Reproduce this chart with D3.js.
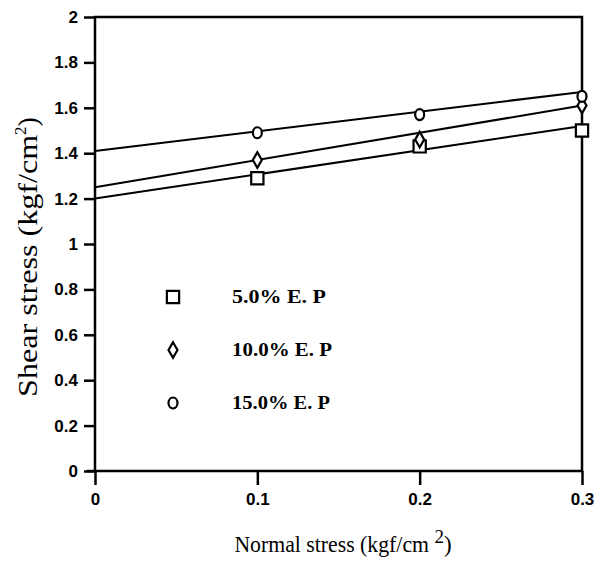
<!DOCTYPE html>
<html>
<head>
<meta charset="utf-8">
<script src="https://cdn.jsdelivr.net/npm/d3@7"></script>
<style>
  body { margin: 0; background: #fff; }
  .tick text { font-family: "Liberation Sans", Arial, sans-serif; font-weight: bold; }
</style>
</head>
<body>
<script>
// shear stress vs normal stress, three E.P contents

var seriesNames = ['5.0% E. P', '10.0% E. P', '15.0% E. P'];
var symbols = ['square', 'diamond', 'circle'];
var normalStress = [0.1, 0.2, 0.3];
var shear5 = [1.29, 1.43, 1.50];
var shear10 = [1.37, 1.46, 1.61];
var shear15 = [1.49, 1.57, 1.65];
// fitted lines, value at normal stress 0 and 0.3
var fitStart = [1.20, 1.25, 1.41];
var fitEnd = [1.52, 1.61, 1.67];
var xTicks = [0, 0.1, 0.2, 0.3];
var yTicks = [0, 0.2, 0.4, 0.6, 0.8, 1, 1.2, 1.4, 1.6, 1.8, 2];

var width = 612, height = 565;
var plotLeft = 95, plotRight = 582, plotTop = 17, plotBottom = 471;

var svg = d3.select('body').append('svg')
  .attr('width', width)
  .attr('height', height);

var x = d3.scaleLinear().domain([0, 0.3]).range([plotLeft, plotRight]);
var y = d3.scaleLinear().domain([0, 2]).range([plotBottom, plotTop]);

// axes
var yAxis = svg.append('g')
  .attr('transform', 'translate(' + plotLeft + ',0)')
  .call(d3.axisLeft(y).tickValues(yTicks).tickSize(11).tickPadding(6)
    .tickFormat(function(d) { return String(+d.toFixed(1)); }));
yAxis.select('.domain').remove();
yAxis.selectAll('line').attr('stroke', '#000').attr('stroke-width', 2.5);
yAxis.selectAll('text').attr('font-size', 17).attr('fill', '#000');

var xAxis = svg.append('g')
  .attr('transform', 'translate(0,' + plotBottom + ')')
  .call(d3.axisBottom(x).tickValues(xTicks).tickSize(14).tickPadding(8)
    .tickFormat(function(d) { return d === 0 ? '0' : d3.format('.1f')(d); }));
xAxis.select('.domain').remove();
xAxis.selectAll('line').attr('stroke', '#000').attr('stroke-width', 2.5);
xAxis.selectAll('text').attr('font-size', 17).attr('fill', '#000');

// frame
svg.append('rect')
  .attr('x', plotLeft).attr('y', plotTop)
  .attr('width', plotRight - plotLeft).attr('height', plotBottom - plotTop)
  .attr('fill', 'none').attr('stroke', '#000').attr('stroke-width', 2.5);
svg.append('line')
  .attr('x1', plotLeft - 8).attr('x2', plotLeft)
  .attr('y1', plotBottom).attr('y2', plotBottom)
  .attr('stroke', '#000').attr('stroke-width', 2.5);

// fit lines
var fits = svg.append('g');
for (var i = 0; i < 3; i++) {
  fits.append('line')
    .attr('x1', x(0)).attr('y1', y(fitStart[i]))
    .attr('x2', x(0.3)).attr('y2', y(fitEnd[i]))
    .attr('stroke', '#000').attr('stroke-width', 2);
}

// markers
var symbolTypes = {
  square: d3.symbolSquare,
  diamond: d3.symbolDiamond,
  circle: d3.symbolCircle
};
var symbolSizes = { square: 150, diamond: 70, circle: 80 };
var allSeries = [shear5, shear10, shear15];

var drawMarker = function(g, kind, cx, cy) {
  var path;
  if (kind === 'circle') {
    path = g.append('ellipse').attr('cx', cx).attr('cy', cy).attr('rx', 4.5).attr('ry', 5.5);
  } else {
    path = g.append('path')
      .attr('d', d3.symbol().type(symbolTypes[kind]).size(symbolSizes[kind])())
      .attr('transform', 'translate(' + cx + ',' + cy + ')');
  }
  path.attr('fill', '#fff').attr('stroke', '#000').attr('stroke-width', 2.2);
};

var markers = svg.append('g');
for (var s = 0; s < 3; s++) {
  for (var j = 0; j < normalStress.length; j++) {
    drawMarker(markers, symbols[s], x(normalStress[j]), y(allSeries[s][j]));
  }
}

// legend
var legendY = [297, 350, 403];
var legendLen = [94, 100, 98];
var legend = svg.append('g');
for (var k = 0; k < 3; k++) {
  drawMarker(legend, symbols[k], 173, legendY[k]);
  legend.append('text')
    .attr('x', 232).attr('y', legendY[k] + 6)
    .attr('font-family', '"Liberation Serif", serif')
    .attr('font-weight', 'bold')
    .attr('font-size', 19)
    .attr('textLength', legendLen[k])
    .attr('lengthAdjust', 'spacingAndGlyphs')
    .text(seriesNames[k]);
}

// axis titles
var yTitle = svg.append('text')
  .attr('transform', 'translate(37,257) rotate(-90)')
  .attr('text-anchor', 'middle')
  .attr('font-family', '"Liberation Serif", serif')
  .attr('font-size', 28);
yTitle.append('tspan')
  .attr('textLength', 262)
  .attr('lengthAdjust', 'spacingAndGlyphs')
  .text('Shear  stress  (kgf/cm');
yTitle.append('tspan').attr('font-size', 17).attr('dy', -11).text('2');
yTitle.append('tspan').attr('dy', 11).text(')');

var xTitle = svg.append('text')
  .attr('x', 343).attr('y', 552)
  .attr('text-anchor', 'middle')
  .attr('font-family', '"Liberation Serif", serif')
  .attr('font-size', 23);
xTitle.append('tspan')
  .attr('textLength', 200)
  .attr('lengthAdjust', 'spacingAndGlyphs')
  .text('Normal  stress (kgf/cm ');
xTitle.append('tspan').attr('font-size', 19).attr('dy', -9).text('2');
xTitle.append('tspan').attr('dy', 9).text(')');
</script>
</body>
</html>
